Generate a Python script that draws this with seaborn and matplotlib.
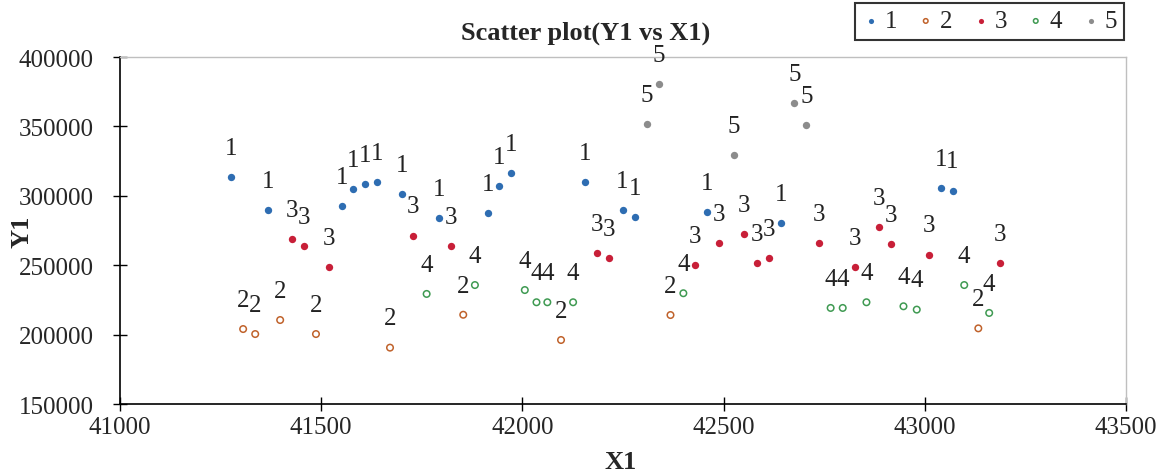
import matplotlib
matplotlib.use("Agg")
import matplotlib.pyplot as plt
import seaborn as sns
import pandas as pd

# series values
s1_x = [41276, 41369, 41552, 41580, 41610, 41638, 41700, 41793, 41914, 41943, 41972, 42156, 42249, 42281, 42458, 42642, 43040, 43069]
s1_y = [313300, 290000, 292400, 304900, 308500, 309700, 301300, 283800, 287400, 307300, 316200, 309700, 290000, 284900, 288500, 280200, 305600, 303700]

s2_x = [41306, 41336, 41398, 41487, 41671, 41853, 42096, 42368, 43133]
s2_y = [204000, 200400, 210500, 200400, 190600, 214300, 196100, 214100, 204500]

s3_x = [41427, 41458, 41520, 41729, 41823, 42186, 42216, 42429, 42489, 42551, 42583, 42612, 42737, 42826, 42886, 42916, 43010, 43187]
s3_y = [268900, 264000, 248900, 271300, 264000, 258800, 255200, 250100, 266000, 272500, 251400, 255000, 266000, 248900, 277500, 265000, 257600, 251400]

s4_x = [41762, 41882, 42006, 42035, 42062, 42126, 42400, 42766, 42796, 42855, 42947, 42980, 43098, 43160]
s4_y = [229300, 235700, 232100, 223300, 223300, 223300, 229800, 219200, 219200, 223300, 220400, 218000, 235700, 215600]

s5_x = [42309, 42340, 42526, 42676, 42706]
s5_y = [351700, 380500, 329600, 366900, 351000]

series_names = ["1", "2", "3", "4", "5"]
x_ticks = [41000, 41500, 42000, 42500, 43000, 43500]
y_ticks = [150000, 200000, 250000, 300000, 350000, 400000]

colors = ["#2e6db2", "#c0622b", "#c81f38", "#3f9a52", "#8c8c8c"]
filled = [True, False, True, False, True]


def main():
    frames = []
    for name, xs, ys in zip(series_names, [s1_x, s2_x, s3_x, s4_x, s5_x],
                            [s1_y, s2_y, s3_y, s4_y, s5_y]):
        frames.append(pd.DataFrame({"X1": xs, "Y1": ys, "series": name}))
    df = pd.concat(frames, ignore_index=True)

    sns.set_style("white")
    plt.rcParams["font.family"] = ["Liberation Serif", "DejaVu Serif"]

    fig = plt.figure(figsize=(11.69, 4.77), dpi=100)
    ax = fig.add_axes([120 / 1169, 1 - 405 / 477, 1006 / 1169, 347 / 477])

    for name, c, fill in zip(series_names, colors, filled):
        sub = df[df["series"] == name]
        if fill:
            sns.scatterplot(data=sub, x="X1", y="Y1", ax=ax, color=c, s=28,
                            edgecolor=c, linewidth=0, label=name)
        else:
            sns.scatterplot(data=sub, x="X1", y="Y1", ax=ax, facecolor="none",
                            edgecolor=c, s=22, linewidth=1.1, label=name)
        # data labels above each point
        for xv, yv in zip(sub["X1"], sub["Y1"]):
            ax.annotate(name, (xv, yv), xytext=(0, 21), textcoords="offset points",
                        ha="center", va="center", fontsize=18, color="#222222")

    ax.set_xlim(41000, 43500)
    ax.set_ylim(150000, 400000)
    ax.set_xticks(x_ticks)
    ax.set_yticks(y_ticks)
    ax.set_xticklabels([str(t) for t in x_ticks], fontsize=18)
    ax.set_yticklabels([str(t) for t in y_ticks], fontsize=18)
    ax.tick_params(bottom=True, left=True, direction="inout", length=10,
                   width=1, color="black")
    ax.tick_params(axis="x", pad=4)
    ax.tick_params(axis="y", pad=14)

    for side in ["left", "bottom"]:
        ax.spines[side].set_color("black")
        ax.spines[side].set_linewidth(1.2)
    for side in ["top", "right"]:
        ax.spines[side].set_color("#bfbfbf")
        ax.spines[side].set_linewidth(1.0)

    ax.set_xlabel("")
    ax.set_ylabel("")
    fig.text(621 / 1169, 1 - 463 / 477, "X1", ha="center", va="center",
             fontsize=19, fontweight="bold")
    fig.text(22 / 1169, 1 - 232 / 477, "Y1", ha="center", va="center",
             fontsize=19, fontweight="bold", rotation=90)
    fig.text(586 / 1169, 1 - 33 / 477, "Scatter plot(Y1 vs X1)", ha="center",
             va="center", fontsize=19, fontweight="bold")

    leg = ax.legend(loc="upper right", bbox_to_anchor=(1124 / 1169, 1 - 4 / 477),
                    bbox_transform=fig.transFigure, ncol=5, frameon=True,
                    fancybox=False, edgecolor="black", fontsize=18,
                    handletextpad=0.2, columnspacing=0.8, markerscale=0.7,
                    borderpad=0.28, borderaxespad=0, handlelength=0.7)
    leg.get_frame().set_linewidth(1.5)

    fig.savefig("out.png", dpi=100)


if __name__ == "__main__":
    main()
